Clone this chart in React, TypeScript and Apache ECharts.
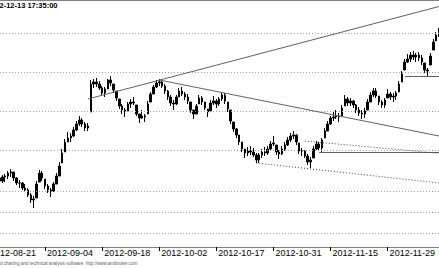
import React, { useEffect, useRef } from "react";
import * as echarts from "echarts";

// Date labels and the bar index each one sits on
const tickLabels = ["2012-08-21", "2012-09-04", "2012-09-18", "2012-10-02", "2012-10-17", "2012-10-31", "2012-11-15", "2012-11-29"];
const tickBars = [0, 20, 40, 60, 80, 100, 120, 140];

// Price bars (close / high / low), one per bar
const closes = [
  11.8, 12.1, 12.0, 12.2, 11.9, 12.3, 12.4, 12.7, 12.8, 12.2, 11.7, 11.7, 11.2, 11.0, 10.5, 10.0, 10.1, 11.6, 12.7, 12.2,
  11.4, 11.0, 10.9, 11.6, 12.4, 13.4, 14.7, 15.8, 16.2, 16.4, 17.0, 17.6, 18.0, 17.6, 17.2, 17.4, 21.6, 21.8, 21.6, 21.2,
  20.7, 21.1, 22.0, 21.7, 21.0, 20.2, 19.4, 19.0, 18.9, 19.6, 19.8, 19.7, 18.6, 18.2, 18.4, 18.3, 19.6, 20.6, 21.3, 21.7,
  21.8, 21.4, 20.9, 20.3, 19.7, 19.6, 20.3, 20.9, 20.6, 20.3, 19.9, 19.0, 18.6, 19.4, 20.2, 19.8, 19.2, 18.8, 19.7, 19.9,
  19.6, 20.1, 20.5, 19.9, 19.1, 17.9, 17.1, 16.5, 15.8, 15.1, 14.7, 14.9, 14.8, 14.5, 14.0, 14.5, 14.8, 14.7, 15.1, 15.6,
  15.7, 14.8, 14.6, 15.1, 15.5, 16.0, 16.4, 16.5, 15.8, 14.9, 14.9, 14.4, 13.8, 14.0, 15.1, 15.6, 15.2, 16.0, 16.9, 17.6,
  18.2, 18.3, 18.4, 18.3, 19.2, 20.1, 19.7, 19.9, 19.5, 19.0, 18.7, 18.6, 18.9, 19.8, 20.5, 20.9, 20.4, 19.8, 19.5, 20.0,
  20.6, 20.3, 20.4, 20.7, 21.6, 22.6, 23.8, 24.1, 24.5, 24.3, 24.5, 24.2, 23.8, 23.0, 22.9, 24.4, 25.8, 26.5, 26.9,
];
const highs = [
  12.1, 12.3, 12.4, 12.4, 12.3, 12.5, 12.6, 12.9, 13.1, 12.8, 12.3, 12.0, 11.8, 11.6, 11.2, 10.7, 10.4, 11.9, 13.0, 12.9,
  12.1, 11.6, 11.2, 11.8, 12.7, 13.8, 15.1, 16.1, 16.8, 16.7, 17.3, 17.9, 18.4, 18.2, 17.8, 17.7, 22.0, 22.1, 22.2, 21.9,
  21.4, 21.3, 22.1, 22.4, 21.6, 20.9, 20.1, 19.6, 19.2, 19.8, 20.1, 20.3, 19.5, 18.6, 19.0, 18.6, 19.9, 20.8, 21.5, 22.0,
  22.1, 22.1, 21.6, 21.0, 20.5, 20.0, 20.5, 21.2, 21.3, 20.8, 20.6, 19.8, 19.0, 19.6, 20.5, 20.4, 19.8, 19.1, 20.0, 20.4,
  20.1, 20.3, 20.8, 20.7, 19.8, 19.0, 17.8, 17.2, 16.5, 15.8, 15.1, 15.3, 15.4, 15.2, 14.7, 14.7, 15.1, 15.3, 15.4, 15.9,
  16.4, 15.5, 15.0, 15.4, 15.8, 16.3, 16.7, 16.9, 16.6, 15.7, 15.2, 15.0, 14.6, 14.3, 15.4, 15.9, 15.8, 16.2, 17.2, 17.9,
  18.4, 18.8, 19.0, 18.7, 19.5, 20.5, 20.3, 20.2, 20.0, 19.6, 19.3, 19.0, 19.2, 20.1, 20.8, 21.2, 21.2, 20.4, 20.0, 20.2,
  21.1, 20.8, 20.7, 20.9, 21.9, 22.9, 24.1, 24.6, 24.8, 24.9, 24.7, 24.8, 24.5, 23.7, 23.2, 24.7, 26.1, 26.8, 27.2,
];
const lows = [
  11.5, 11.7, 11.8, 11.7, 11.6, 11.7, 11.8, 12.1, 12.3, 11.9, 11.5, 11.2, 11.0, 10.8, 10.3, 9.7, 9.2, 10.2, 11.8, 11.9,
  11.1, 10.7, 10.3, 10.8, 11.6, 12.4, 13.7, 14.8, 15.8, 15.8, 16.3, 16.9, 17.4, 17.3, 16.9, 16.9, 18.8, 21.2, 21.3, 21.0,
  20.5, 20.3, 21.1, 21.4, 20.7, 19.9, 19.1, 18.6, 18.3, 18.9, 19.2, 19.5, 18.4, 17.7, 18.1, 17.8, 18.6, 19.8, 20.6, 21.2,
  21.4, 21.2, 20.6, 20.0, 19.4, 19.0, 19.5, 20.3, 20.4, 20.0, 19.6, 18.7, 18.1, 18.6, 19.6, 19.5, 19.0, 18.3, 18.9, 19.5,
  19.2, 19.4, 19.9, 19.6, 18.8, 17.6, 16.8, 16.2, 15.5, 14.8, 14.2, 14.4, 14.5, 14.3, 13.7, 13.7, 14.2, 14.4, 14.5, 14.9,
  15.4, 14.5, 14.1, 14.5, 14.9, 15.4, 15.8, 16.1, 15.5, 14.6, 14.4, 14.2, 13.5, 13.2, 14.2, 15.0, 14.9, 14.8, 16.2, 16.9,
  17.5, 17.9, 18.1, 17.8, 18.4, 19.4, 19.4, 19.4, 19.2, 18.7, 18.4, 18.1, 18.2, 19.0, 19.8, 20.3, 20.2, 19.5, 19.2, 19.2,
  20.2, 20.0, 19.8, 20.0, 20.8, 21.8, 23.0, 23.7, 23.8, 24.0, 23.8, 23.9, 23.5, 22.7, 22.3, 23.5, 25.0, 25.9, 26.3,
];

// Dotted horizontal price grid levels
const gridLevels = [26.7, 22.8, 18.9, 15.0, 10.9, 8.8, 6.7];

// Hand-drawn study lines: [startBar, startPrice, endBar, endPrice]
const solidLines = [
  [35, 20.1, 158, 29.35],
  [60, 22.0, 158, 16.4],
  [116, 14.75, 158, 14.75],
  [146, 22.4, 158, 22.4],
];
const dottedLines = [
  [111, 15.9, 158, 14.67],
  [94, 13.7, 158, 11.7],
];

const TITLE = "2012-12-13 17:35:00";
const WATERMARK = "AmiBroker - advanced charting and technical analysis software. http://www.amibroker.com";

// the chart canvas starts 13px left of the window, as in the reference
const SHIFT = 13;

export default function App() {
  const ref = useRef<HTMLDivElement>(null);
  useEffect(() => {
    document.body.style.margin = "0";
    const chart = echarts.init(ref.current!, null, { renderer: "svg" });
    const categories = closes.map((_, i) => String(i));
    const candles = closes.map((c, i) => {
      const prev = i === 0 ? c : closes[i - 1];
      const open = Math.min(Math.max(prev, lows[i]), highs[i]);
      return [open, c, lows[i], highs[i]];
    });
    const isTick = (i: number) => tickBars.indexOf(i) >= 0;
    const font = "Liberation Sans, Arial, sans-serif";
    chart.setOption({
      animation: false,
      backgroundColor: "#ffffff",
      grid: { left: 0, right: 0, top: 0, bottom: 21 },
      xAxis: {
        type: "category",
        data: categories,
        boundaryGap: false,
        axisLine: { show: true, lineStyle: { color: "#808080", width: 1 } },
        axisTick: { show: true, interval: (i: number) => isTick(i), length: 4, lineStyle: { color: "#000" } },
        axisLabel: {
          show: true,
          interval: (i: number) => isTick(i),
          formatter: (_v: string, i: number) => tickLabels[tickBars.indexOf(i)] ?? "",
          align: "left",
          margin: 1,
          padding: [0, 0, 0, 2],
          fontSize: 9,
          color: "#000",
          fontFamily: font,
        },
        splitLine: { show: false },
      },
      yAxis: {
        type: "value",
        min: 5.3,
        max: 30,
        show: false,
        splitLine: { show: false },
      },
      series: [
        {
          type: "line",
          data: [],
          silent: true,
          markLine: {
            silent: true,
            symbol: ["none", "none"],
            label: { show: false },
            lineStyle: { color: "#a0a0a0", type: [1, 2], width: 1 },
            data: gridLevels.map((v) => ({ yAxis: v })),
          },
        },
        {
          type: "candlestick",
          data: candles,
          barWidth: 2,
          itemStyle: { color: "#000", color0: "#000", borderColor: "#000", borderColor0: "#000", borderWidth: 1 },
          z: 3,
        },
        {
          type: "line",
          data: [],
          silent: true,
          z: 4,
          markLine: {
            silent: true,
            symbol: ["none", "none"],
            label: { show: false },
            data: [
              ...solidLines.map((l) => [
                { coord: [l[0], l[1]], lineStyle: { color: "#606060", width: 1, type: "solid" } },
                { coord: [l[2], l[3]] },
              ]),
              ...dottedLines.map((l) => [
                { coord: [l[0], l[1]], lineStyle: { color: "#404040", width: 1, type: [1, 2] } },
                { coord: [l[2], l[3]] },
              ]),
            ],
          },
        },
      ],
      graphic: [
        { type: "line", shape: { x1: SHIFT, y1: 0.5, x2: SHIFT + 439, y2: 0.5 }, style: { stroke: "#808080", lineWidth: 1 } },
        {
          type: "text",
          x: SHIFT - 13,
          y: 1,
          style: { text: TITLE, font: "bold 7.5px Liberation Sans, Arial, sans-serif", fill: "#000", textVerticalAlign: "top" },
        },
        {
          type: "text",
          x: SHIFT - 42,
          y: 261,
          style: { text: WATERMARK, font: "4.5px Liberation Sans, Arial, sans-serif", fill: "#606060", textVerticalAlign: "top" },
        },
      ],
    });
    return () => chart.dispose();
  }, []);
  return (
    <div
      ref={ref}
      style={{ position: "absolute", left: -SHIFT, top: 0, width: 439 + SHIFT, height: 268, background: "#fff" }}
    />
  );
}
